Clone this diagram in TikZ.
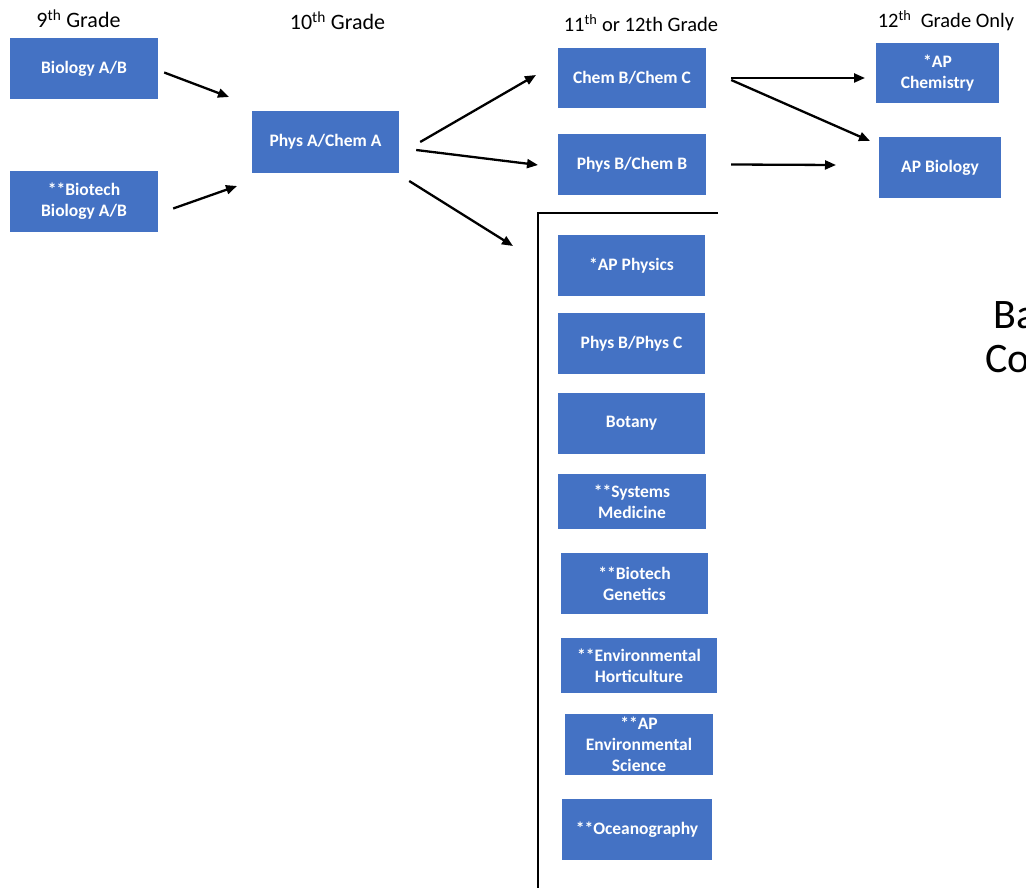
\documentclass[tikz,border=0pt]{standalone}
\usepackage{fontspec}
\setmainfont{Carlito}
\usetikzlibrary{arrows.meta}
\definecolor{boxblue}{HTML}{4472C4}
\tikzset{
  box/.style={fill=boxblue, draw=none, text=white, align=center, inner sep=0pt,
    font=\fontsize{17.5}{21}\selectfont\bfseries},
  head/.style={font=\fontsize{22}{24}\selectfont, inner sep=0pt, anchor=base},
  headr/.style={font=\fontsize{20.5}{24}\selectfont, inner sep=0pt, anchor=base},
  arr/.style={line width=2.3pt, -{Triangle[length=11pt,width=9pt]}},
  bline/.style={line width=2.3pt}
}
\begin{document}
\begin{tikzpicture}[x=1pt,y=-1pt]
\useasboundingbox (0,0) rectangle (1026,888);
\clip (0,0) rectangle (1026,888);
% headers
\node[head] (h9) at (78.5,28) {9\textsuperscript{th} Grade};
\node[head] (h10) at (337.5,30) {10\textsuperscript{th} Grade};
\node[headr] (h11) at (641,32) {11\textsuperscript{th} or 12th Grade};
\node[headr] (h12) at (946,28) {12\textsuperscript{th}\ \ Grade Only};
% boxes
\node[box, minimum width=148pt, minimum height=61pt] (bio) at (84,68.5) {Biology A/B};
\node[box, minimum width=148pt, minimum height=61pt] (btb) at (84,201.5) {**Biotech\\Biology A/B};
\node[box, minimum width=147pt, minimum height=62pt] (phys) at (325.5,142) {Phys A/Chem A};
\node[box, minimum width=148pt, minimum height=60pt] (chbc) at (632,78) {Chem B/Chem C};
\node[box, minimum width=148pt, minimum height=61pt] (pbcb) at (632,164.5) {Phys B/Chem B};
\node[box, minimum width=123pt, minimum height=60pt] (apchem) at (937.5,73) {*AP\\Chemistry};
\node[box, minimum width=122pt, minimum height=61pt] (apbio) at (940,167.5) {AP Biology};
\node[box, minimum width=147pt, minimum height=61pt] (apphys) at (631.5,265.5) {*AP Physics};
\node[box, minimum width=147pt, minimum height=61pt] (pbpc) at (631.5,343.5) {Phys B/Phys C};
\node[box, minimum width=147pt, minimum height=61pt] (botany) at (631.5,423.5) {Botany};
\node[box, minimum width=148pt, minimum height=55pt] (sysmed) at (632,501.5) {**Systems\\Medicine};
\node[box, minimum width=147pt, minimum height=61pt] (btgen) at (634.5,583.5) {**Biotech\\Genetics};
\node[box, minimum width=156pt, minimum height=55pt] (envh) at (639,665.5) {**Environmental\\Horticulture};
\node[box, minimum width=148pt, minimum height=61pt] (apenv) at (639,744.5) {**AP\\Environmental\\Science};
\node[box, minimum width=150pt, minimum height=61pt] (ocean) at (637,829.5) {**Oceanography};
% bracket
\coordinate (brtop) at (538,213);
\coordinate (brright) at (718,213);
\coordinate (brbot) at (538,890);
\draw[bline] (brright) -- (brtop) -- (brbot);
% cut-off text (cropped at the right edge in the original)
\node[font=\fontsize{42}{44}\selectfont, anchor=base west, inner sep=0pt] (ba) at (993,328) {Ba};
\node[font=\fontsize{42}{44}\selectfont, anchor=base west, inner sep=0pt] (co) at (985,372) {Co};
% arrows
\coordinate (e1) at (229,97);
\coordinate (e2) at (237,186);
\coordinate (e3) at (536,75);
\coordinate (e4) at (538,165);
\coordinate (e5) at (513,246);
\coordinate (e6) at (865,78);
\coordinate (e7) at (870,141);
\coordinate (e8) at (836,165);
\draw[arr] ([shift={(6,4)}]bio.east) -- (e1);
\draw[arr] ([shift={(15,7)}]btb.east) -- (e2);
\draw[arr] ([shift={(21,0)}]phys.east) -- (e3);
\draw[arr] ([shift={(17,8)}]phys.east) -- (e4);
\draw[arr] ([shift={(10,39)}]phys.east) -- (e5);
\draw[arr] ([shift={(25,0)}]chbc.east) -- (e6);
\draw[arr] ([shift={(25,2)}]chbc.east) -- (e7);
\draw[arr] ([shift={(25,0)}]pbcb.east) -- (e8);
\end{tikzpicture}
\end{document}
